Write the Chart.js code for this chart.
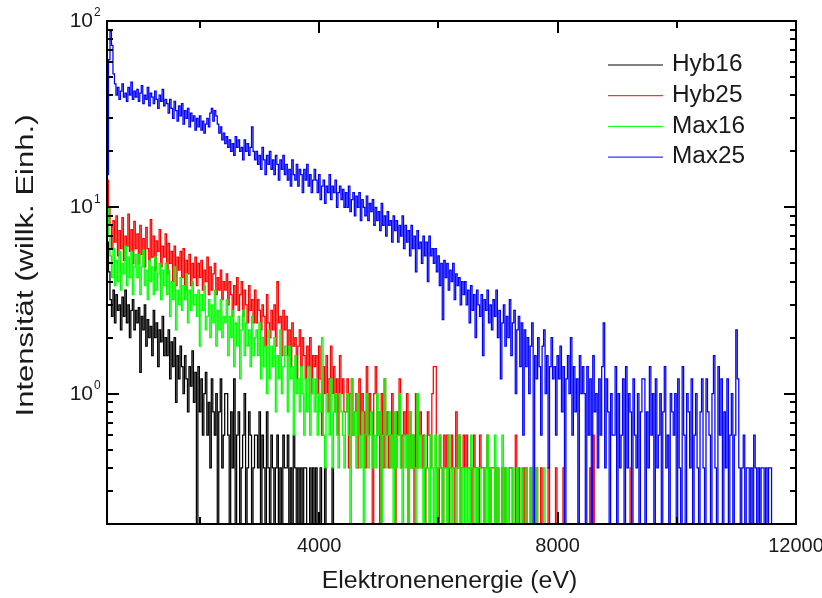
<!DOCTYPE html>
<html><head><meta charset="utf-8">
<script src="https://cdn.jsdelivr.net/npm/chart.js@4.4.1/dist/chart.umd.min.js"></script>
<style>html,body{margin:0;padding:0;background:#fff;}#wrap{width:822px;height:598px;}</style>
</head><body><div id="wrap"><canvas id="c" width="822" height="598"></canvas></div>
<script>
// Histogram bins (eV)
const binStart = 440;
const binWidth = 25;
const seriesNames = ['Hyb16', 'Hyb25', 'Max16', 'Max25'];
const seriesColors = ['#000000', '#ff0000', '#00ff00', '#0000ff'];
const xTickValues = [2000, 4000, 6000, 8000, 10000];
const xLabelValues = [4000, 8000, 12000];
const yLabelValues = [1, 10, 100];
const yLabelExps = ['0', '1', '2'];

const hyb16 = [
 6.5, 4.5, 3.2, 2.6, 3.6, 2.4, 3.4, 2.8, 3, 2.2, 3.3, 2.6, 3.6, 2.4, 3, 2, 2.8, 3.2, 2.2, 2.8,
 2.4, 2.9, 1.3, 2.6, 2.2, 3, 1.8, 2.5, 2, 2.3, 1.6, 2.8, 2, 2.4, 1.4, 2.2, 1.9, 2.6, 1.6, 2,
 1.6, 2.2, 1.2, 1.9, 1.4, 2, 0.9, 1.6, 1.2, 1.8, 1.4, 1, 1.6, 1.2, 0.8, 1.4, 1.1, 1.7, 0.9, 1.3,
 0, 1.4, 0.8, 1.2, 0.6, 1, 1.3, 0.6, 0.9, 0.4, 1.2, 0.8, 0.6, 1, 0, 0.8, 1.2, 0.4, 0.6, 1,
 1, 0.6, 0, 0.8, 0.4, 1.2, 0, 0.6, 0.8, 0, 0.4, 0.6, 1, 0, 0.4, 0.8, 0.6, 0, 0.4, 0.6,
 0.6, 0.4, 0.8, 0, 0.6, 0.4, 0, 0.8, 0.4, 0, 0.6, 0.4, 0, 0.4, 0.6, 0, 0.4, 0, 0.6, 0.4,
 0.4, 0.6, 0, 0.4, 0, 0.6, 0.4, 0, 0.4, 0, 0.4, 0, 0.4, 0.4, 0, 0, 0.4, 0, 0.4, 0,
 0.4, 0, 0, 0.4, 0, 0, 0.4, 0, 0, 0, 0, 0.4, 0, 0, 0, 0, 0, 0, 0, 0];

const hyb25 = [
 14, 10, 8, 6, 8.5, 6.5, 9, 5.5, 7.5, 6, 8.8, 5.2, 7, 6.2, 9.2, 5.8, 7.6, 5, 8.4, 6,
 7.2, 5, 8, 5.6, 6.8, 4.8, 7.8, 6, 5.2, 8.6, 5.4, 7, 4.6, 6.6, 5.8, 7.6, 4.8, 6.2, 5.4, 7.2,
 4.4, 6.4, 5, 5.8, 4, 6.2, 3.8, 5.4, 4.6, 5.8, 4.2, 6, 3.6, 5.2, 4.4, 5.6, 3.8, 5, 4.2, 5.4,
 3.8, 5, 4.2, 5.2, 3.6, 4.6, 4, 5.4, 3.4, 4.8, 3.6, 4.4, 5, 3.4, 4.2, 3.6, 4.6, 3.2, 4, 3.6,
 4.4, 3, 4, 3.4, 2.6, 3.8, 3, 4.2, 2.8, 3.4, 4, 2.6, 3.6, 3, 2.4, 3.8, 2.8, 3.2, 2.4, 3.6,
 2.4, 3.2, 2.8, 2.2, 3, 2.6, 1.8, 3.4, 2.4, 2, 2.8, 2.2, 3, 1.8, 4, 2.4, 2.6, 1.6, 2.8, 2.2,
 2.6, 1.6, 2.2, 1.4, 2.4, 1.8, 2, 1.2, 1.8, 2.2, 1.4, 2, 1.6, 1.2, 1.8, 1.4, 2, 1, 1.6, 1.4,
 1.6, 1, 1.8, 1.2, 0.6, 1.4, 1, 1.6, 0.8, 1.2, 1.8, 1, 1.4, 0.8, 1.2, 0.6, 1.6, 1, 1.2, 0.8,
 0.8, 1.2, 0.4, 1, 1.2, 0.6, 0.8, 1, 0.4, 1.2, 0.6, 1, 0.8, 0.4, 1.4, 0.6, 1, 0.8, 0, 1,
 1.4, 0.6, 0.8, 0, 1, 0.4, 1.2, 0.6, 0.8, 0.4, 0.6, 1, 0.4, 0, 0.8, 0.6, 1.2, 0.4, 0.6, 0.8,
 0.6, 1, 0, 0.8, 0.4, 0.6, 0, 1, 0.4, 0.6, 0.8, 0.4, 0.6, 0, 0.4, 0.8, 0.6, 0.4, 1, 1.4,
 1.4, 0.4, 0, 0.6, 0.4, 0, 0.6, 0.4, 0.6, 0, 0.4, 0.6, 0.4, 0, 0.8, 0.4, 0.6, 0, 0.4, 0.6,
 0.4, 0.6, 0.4, 0.4, 0, 0.4, 0.6, 0.4, 0.4, 0, 0.6, 0.4, 0.4, 0, 0.4, 0.6, 0.4, 0, 0.4, 0.4,
 0.4, 0, 0.4, 0, 0, 0.4, 0, 0.4, 0, 0, 0.4, 0.4, 0, 0, 0.6, 0, 0.4, 0, 0, 0.4,
 0, 0.4, 0, 0, 0.4, 0, 0, 0, 0.4, 0, 0, 0.4, 0, 0, 0, 0, 0.4, 0, 0, 0,
 0, 0.4, 0, 0, 0, 0, 0.4, 0, 0, 0, 0, 0, 0, 0, 0, 0, 0, 0, 0, 0,
 0, 0, 0, 0, 0.4, 0, 0.6, 0, 0, 0, 0, 0, 0, 0, 0, 0, 0, 0, 0, 0,
 0, 0, 0, 0, 0, 0, 0, 0, 0, 0, 0, 0.4, 0, 0, 0, 0, 0, 0, 0, 0];

const max16 = [
 10, 7, 5.5, 4.2, 6, 3.8, 5.2, 4, 5.8, 3.6, 5, 4.4, 6.2, 3.8, 5.4, 4.2, 5.8, 3.4, 4.8, 5.6,
 4.2, 5.6, 3.4, 4.8, 5.9, 3.8, 4.6, 3.2, 5.2, 4, 4.8, 3.4, 5.4, 3.6, 4.4, 5, 3.2, 4.6, 3.8, 5,
 3.4, 4.6, 2.6, 4, 3.2, 4.8, 2.2, 3.6, 3, 4.2, 2.8, 3.8, 3.2, 4.4, 2.4, 3.6, 2.8, 4, 3, 3.4,
 2.6, 3.6, 1.8, 3.4, 2.8, 3.8, 2.2, 2.6, 3.2, 2, 3, 2.4, 3.6, 1.8, 2.8, 2.2, 3.2, 2, 2.6, 2.4,
 3.2, 1.6, 2.6, 2, 2.8, 1.4, 2.4, 1.8, 2.6, 1.2, 2.2, 2.8, 1.6, 2.4, 1.8, 2.2, 1.4, 2.6, 1.6, 2,
 2.2, 1.6, 2.4, 1.2, 2, 1.4, 1.8, 1, 2.2, 1.2, 1.8, 1.4, 2, 0.8, 1.6, 1.2, 2.2, 1, 1.4, 1.8,
 1.6, 0.8, 1.8, 1.2, 1.4, 0.6, 1.6, 1, 1.2, 0.8, 1.4, 1, 0.6, 1.2, 0.8, 1.4, 0.6, 1, 1.2, 0.8,
 1.2, 0.6, 1, 0.8, 2, 0.6, 0.4, 1, 0.8, 0.6, 1.2, 0.4, 0.8, 1, 0.6, 0.4, 1, 0.8, 0.6, 0.4,
 0.8, 1, 0.6, 0, 1.2, 0.6, 0.8, 0.4, 1, 0.6, 0.4, 0.8, 0, 0.6, 1, 0.4, 0.6, 0.8, 0.4, 0.6,
 0.4, 1, 0.6, 0.8, 0, 0.6, 1.2, 0.4, 0.6, 0.8, 0.4, 0.6, 0, 0.8, 0.4, 0.6, 1, 0.4, 0, 0.6,
 0.4, 0.6, 0, 0.8, 0.4, 0.6, 0.4, 0, 1, 0.4, 0.6, 0.4, 0, 0.6, 0.4, 0.4, 0, 0.6, 0.4, 0,
 0.6, 0, 0.4, 0.6, 0.4, 0, 0.4, 0.4, 0, 0.6, 0.4, 0, 0.4, 0.4, 0, 0.4, 0.6, 0, 0.4, 0,
 0.4, 0, 0.4, 0, 0.6, 0.4, 0, 0.4, 0, 0.4, 0.4, 0, 0, 0.4, 0, 0.6, 0, 0.4, 0, 0,
 0.6, 0, 0.4, 0, 0, 0.6, 0, 0.4, 0, 0.4, 0, 0, 0.4, 0, 0, 0.4, 0, 0, 0.4, 0,
 0, 0.4, 0, 0, 0.4, 0, 0, 0, 0.4, 0, 0, 0, 0, 0.4, 0, 0, 0, 0, 0, 0];

const max25 = [
 15, 62, 88, 74, 52, 46, 40, 44, 38, 42, 46, 39, 41, 37, 44, 40, 47, 38, 42, 39,
 43, 37, 41, 45, 36, 40, 38, 44, 35, 41, 39, 36, 42, 38, 34, 40, 37, 43, 35, 38,
 36, 32, 38, 34, 30, 37, 33, 29, 35, 31, 36, 28, 33, 30, 34, 27, 32, 29, 31, 26,
 30, 27, 31, 26, 29, 25, 28, 30, 27, 32, 34, 29, 33, 31, 28, 25, 27, 23, 25, 22,
 24, 21, 23, 20, 22, 19, 24, 21, 23, 20, 21, 18, 23, 20, 22, 19, 21, 27, 20, 18,
 20, 17, 19, 16, 21, 18, 15, 19, 17, 20, 16, 18, 15, 19, 17, 14, 18, 16, 19, 15,
 17, 14, 16, 13, 18, 15, 14, 17, 13, 16, 15, 12, 16, 14, 17, 13, 15, 12, 14, 16,
 14, 12, 15, 11, 13, 14, 10.5, 13, 12, 15, 11, 13, 12, 14, 10, 12, 13, 11, 12.5, 10,
 12, 10, 13, 9.5, 11, 12, 9, 11.5, 10, 12, 8.5, 11, 10, 9, 11.5, 8.5, 10.5, 9.5, 11, 8,
 10, 8.5, 9.5, 7.5, 10.5, 8, 9, 7, 9.5, 8, 8.5, 6.5, 9, 7.5, 8.5, 6.5, 8, 7, 9, 6,
 8, 6.5, 7.5, 5.5, 8, 6, 7, 4.5, 7.5, 6, 6.5, 5, 7, 5.5, 6.5, 4, 7, 5.5, 6, 5,
 6, 4.5, 5.5, 3.8, 5, 2.5, 5.2, 4.2, 5, 3.6, 4.6, 4, 5, 3.2, 4.4, 3.8, 4.2, 3, 4, 3.4,
 4, 3, 3.6, 2.4, 3.8, 2.8, 3.4, 2, 3.6, 3, 2.6, 3.4, 1.6, 3.2, 2.8, 3.6, 2.4, 3, 2.2, 3.2,
 2.6, 3.6, 2, 2.8, 1.2, 2.4, 3, 1.8, 2.6, 2, 3.2, 1.6, 2.4, 2.8, 1, 2.2, 2.6, 1.4, 2.4, 0.6,
 2.2, 1.4, 2, 1, 1.8, 2.4, 0, 1.6, 1.2, 2, 1.4, 0.6, 1.8, 2.2, 1, 1.6, 0.4, 1.4, 2, 1.2,
 1.4, 0.6, 1.6, 1.2, 1.8, 0.8, 1.4, 0, 1.2, 1.6, 1, 2, 0.6, 1.4, 0.8, 1.2, 0, 1.6, 1, 1.4,
 1, 0, 1.4, 0.6, 1.2, 0, 1.6, 0.8, 1, 0.4, 1.2, 0.6, 1.4, 2.4, 0.4, 1.2, 0.8, 0, 1, 0.6,
 0.6, 1.4, 0, 1, 0.4, 0.6, 1.2, 0, 1.4, 0.4, 1, 0.8, 0, 1.2, 0.6, 0.4, 1, 0, 0.8, 1.2,
 1.2, 0, 0.8, 0.4, 1.4, 0.6, 1, 0, 1.2, 0.4, 0.6, 1, 0, 0.8, 1.4, 0.4, 0.6, 0, 1, 0.8,
 0.6, 1, 0, 1.2, 0.4, 0, 1.4, 0.6, 0, 1, 0.8, 0.4, 1.2, 0, 0.6, 1, 0.4, 0, 0.8, 1.2,
 0.4, 0, 1.2, 0.8, 0.6, 0, 1, 1.6, 0.4, 0, 1.4, 0.6, 1.2, 0, 0.8, 0.4, 1.2, 0, 0.6, 1,
 0, 0.6, 2.2, 1.2, 0.4, 0, 0.4, 0.6, 0, 0.4, 0.4, 0, 0.4, 0, 0.6, 0.4, 0, 0.4, 0, 0.4,
 0.4, 0, 0.4, 0, 0.4, 0.4, 0];

const seriesValues = [hyb16, hyb25, max16, max25];
const FLOOR = 0.1; // empty bins drawn below the axis floor (clipped)

function toPoints(values) {
  return values.map((v, i) => ({ x: binStart + i * binWidth, y: v > 0 ? v : FLOOR }));
}

const FONT = "'Liberation Sans', Arial, sans-serif";
const TEXT = '#1a1a1a';

function drawText(ctx, s, x, y, size, align, sx) {
  ctx.save();
  ctx.translate(x, y);
  ctx.scale(sx || 1, 1);
  ctx.font = size + 'px ' + FONT;
  ctx.textAlign = align;
  ctx.textBaseline = 'middle';
  ctx.fillStyle = TEXT;
  ctx.fillText(s, 0, 0);
  ctx.restore();
}

const decorPlugin = {
  id: 'decor',
  afterDatasetsDraw(chart) {
    const { ctx, chartArea: a, scales: { x, y } } = chart;
    ctx.save();
    ctx.strokeStyle = '#000';
    ctx.lineWidth = 2;
    ctx.strokeRect(a.left, a.top, a.right - a.left, a.bottom - a.top);
    ctx.beginPath();
    xTickValues.forEach(v => {
      const px = Math.round(x.getPixelForValue(v));
      const len = xLabelValues.includes(v) ? 12 : 7;
      ctx.moveTo(px, a.bottom); ctx.lineTo(px, a.bottom - len);
      ctx.moveTo(px, a.top); ctx.lineTo(px, a.top + len);
    });
    for (let d = -1; d <= 1; d++) {
      for (let m = 1; m <= 9; m++) {
        const v = m * Math.pow(10, d);
        if (v < 0.2 || v > 100) continue;
        const py = Math.round(y.getPixelForValue(v));
        const len = m === 1 ? 12 : 6;
        ctx.moveTo(a.left, py); ctx.lineTo(a.left + len, py);
        ctx.moveTo(a.right, py); ctx.lineTo(a.right - len, py);
      }
    }
    ctx.stroke();

    xLabelValues.forEach(v => {
      drawText(ctx, String(v), x.getPixelForValue(v), a.bottom + 22, 20, 'center', 1);
    });
    yLabelValues.forEach((v, i) => {
      const py = y.getPixelForValue(v);
      drawText(ctx, '10', a.left - 14, py, 21, 'right', 1);
      drawText(ctx, yLabelExps[i], a.left - 13, py - 8, 12, 'left', 1);
    });
    drawText(ctx, 'Elektronenenergie (eV)', (a.left + a.right) / 2 - 2, 582, 23, 'center', 1.08);
    ctx.save();
    ctx.translate(27, (a.top + a.bottom) / 2 - 7);
    ctx.rotate(-Math.PI / 2);
    drawText(ctx, 'Intensität (willk. Einh.)', 0, 0, 23, 'center', 1.35);
    ctx.restore();

    const lx0 = 608, lx1 = 663, tx = 672, ly0 = 65, dy = 30.7;
    seriesNames.forEach((n, i) => {
      const ly = ly0 + i * dy;
      ctx.strokeStyle = seriesColors[i];
      ctx.lineWidth = 1;
      ctx.beginPath(); ctx.moveTo(lx0, ly); ctx.lineTo(lx1, ly); ctx.stroke();
      drawText(ctx, n, tx, ly, 23, 'left', 1.06);
    });
    ctx.restore();
  }
};

const datasets = seriesValues.map((vals, i) => ({
  label: seriesNames[i],
  data: toPoints(vals),
  borderColor: seriesColors[i],
  backgroundColor: seriesColors[i],
  borderWidth: 1.25,
  stepped: true,
  pointRadius: 0,
  fill: false,
  order: 4 - i
}));

new Chart(document.getElementById('c').getContext('2d'), {
  type: 'line',
  data: { datasets },
  options: {
    responsive: false,
    animation: false,
    events: [],
    layout: { padding: { left: 107, right: 26, top: 21, bottom: 74 } },
    plugins: { legend: { display: false }, tooltip: { enabled: false } },
    scales: {
      x: { type: 'linear', min: 440, max: 12000, display: false },
      y: { type: 'logarithmic', min: 0.2, max: 100, display: false }
    }
  },
  plugins: [decorPlugin]
});
</script>
</body></html>
